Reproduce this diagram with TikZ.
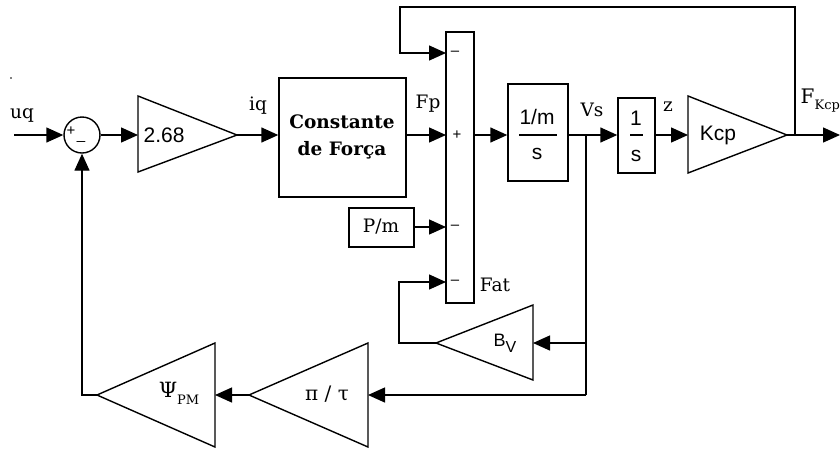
\documentclass[tikz,border=0pt]{standalone}
\usepackage{fontspec}
\setmainfont{DejaVu Serif}
\newfontfamily\sansf{Liberation Sans}
\usetikzlibrary{arrows.meta}
\begin{document}
\begin{tikzpicture}[x=1pt,y=-1pt,line width=1.4pt,
  arr/.style={-{Triangle[length=17pt,width=15pt]}},
  blk/.style={draw,line width=1.4pt,inner sep=0pt},
  lbl/.style={inner sep=0pt,font=\fontsize{18.5}{21}\selectfont},
  slbl/.style={inner sep=0pt,font=\sansf\fontsize{21}{23}\selectfont},
  sgn/.style={inner sep=0pt,font=\sansf\fontsize{15}{16}\selectfont}]
\useasboundingbox (0,0) rectangle (840,448);
\clip (0,0) rectangle (840,448);
% stray dot
\fill (11,78) circle (0.9pt);
% input and sum
\coordinate (in) at (14,135);
\node[lbl] (uq) at (22,115) {uq};
\node[draw,circle,minimum size=36pt,inner sep=0pt,line width=1.4pt] (sum) at (82,135) {};
\node[sgn] (sp) at (71,131) {+};
\node[sgn] (sm) at (81,141) {\_};
\draw[arr] (in) -- (sum.west);
% gain 2.68
\coordinate (g1a) at (138,96); \coordinate (g1b) at (138,172); \coordinate (g1o) at (237,135);
\coordinate (g1i) at (138,135);
\draw[line join=miter] (g1a) -- (g1b) -- (g1o) -- cycle;
\node[slbl,anchor=west] (g1t) at (143,135) {2.68};
\draw[arr] (sum.east) -- (g1i);
% constant box
\node[blk,minimum width=127pt,minimum height=119pt] (cf) at (342.5,137.5) {};
\node[inner sep=0pt,align=center,font=\bfseries\fontsize{18.5}{27}\selectfont] (cft) at (342,137) {Constante\\de Força};
\draw[arr] (g1o) -- (cf.west |- g1o);
\node[lbl] (iq) at (258,106) {iq};
% summing bar
\node[blk,minimum width=28pt,minimum height=271pt] (bar) at (460,167.5) {};
\coordinate (bi1) at (446,53); \coordinate (bi2) at (446,135);
\coordinate (bi3) at (446,227); \coordinate (bi4) at (446,282);
\node[sgn] (s1) at (455,53) {–};
\node[sgn] (s2) at (457,135) {+};
\node[sgn] (s3) at (455,227) {–};
\node[sgn] (s4) at (455,282) {–};
\draw[arr] (cf.east |- bi2) -- (bi2);
\node[lbl] (fp) at (428,104) {Fp};
% 1/m over s
\node[blk,minimum width=60pt,minimum height=97pt] (im) at (538,132.5) {};
\node[slbl] (imn) at (537,117) {1/m};
\node[slbl] (ims) at (537,154) {s};
\draw[line width=1.2pt] (519,135) -- (557,135);
\draw[arr] (bar.east |- bi2) -- (im.west |- bi2);
% Vs and 1/s
\node[blk,minimum width=37pt,minimum height=75pt] (is) at (636.5,135.5) {};
\node[slbl] (isn) at (636,118) {1};
\node[slbl] (iss) at (636,156) {s};
\draw[line width=1.2pt] (630,135) -- (643,135);
\coordinate (vs) at (586,135);
\draw[arr] (im.east |- bi2) -- (is.west |- bi2);
\node[lbl] (vsl) at (592,110) {Vs};
\node[lbl] (zl) at (668,107) {z};
% Kcp
\coordinate (k1a) at (688,96); \coordinate (k1b) at (688,173); \coordinate (k1o) at (787,135);
\coordinate (k1i) at (688,135);
\draw[line join=miter] (k1a) -- (k1b) -- (k1o) -- cycle;
\node[slbl] (kt) at (718,135) {Kcp};
\draw[arr] (is.east |- bi2) -- (k1i);
\coordinate (out) at (840,135);
\draw[arr] (k1o) -- (out);
\node[lbl,anchor=west,font=\fontsize{20}{21}\selectfont] (fk) at (800,101) {F\raisebox{-6pt}{\fontsize{13}{14}\selectfont Kcp}};
% top feedback
\coordinate (fb) at (795,135);
\draw[arr] (fb) -- (795,7) -- (400,7) -- (400,53) -- (bi1);
% P/m
\node[blk,minimum width=65pt,minimum height=39pt] (pm) at (381.5,227.5) {};
\node[lbl] (pmt) at (381,227) {P/m};
\draw[arr] (pm.east |- bi3) -- (bi3);
\node[lbl] (fat) at (495,285) {Fat};
% Bv
\coordinate (bva) at (533,305); \coordinate (bvb) at (533,380); \coordinate (bvo) at (436,343);
\coordinate (bvi) at (533,343);
\draw[line join=miter] (bva) -- (bvb) -- (bvo) -- cycle;
\node[inner sep=0pt,font=\sansf\fontsize{18}{18}\selectfont] (bvt) at (505,343) {B\raisebox{-6pt}{\fontsize{16}{16}\selectfont V}};
\draw (vs) -- (586,395);
\draw[arr] (586,343) -- (bvi);
\draw[arr] (bvo) -- (399,343) -- (399,282) -- (bi4);
% pi/tau
\coordinate (pta) at (368,343); \coordinate (ptb) at (368,447); \coordinate (pto) at (249,395);
\coordinate (pti) at (368,395);
\draw[line join=miter] (pta) -- (ptb) -- (pto) -- cycle;
\node[lbl,font=\fontsize{20}{21}\selectfont] (ptt) at (327,394) {π / τ};
\draw[arr] (586,395) -- (pti);
% Psi_PM
\coordinate (psa) at (215,343); \coordinate (psb) at (215,447); \coordinate (pso) at (97,395);
\coordinate (psi) at (215,395);
\draw[line join=miter] (psa) -- (psb) -- (pso) -- cycle;
\node[lbl,font=\fontsize{21}{22}\selectfont] (pst) at (179,393) {Ψ\raisebox{-7pt}{\fontsize{13}{14}\selectfont PM}};
\draw[arr] (pto) -- (psi);
\draw[arr] (pso) -- (82,395) -- (sum.south);
\end{tikzpicture}
\end{document}
